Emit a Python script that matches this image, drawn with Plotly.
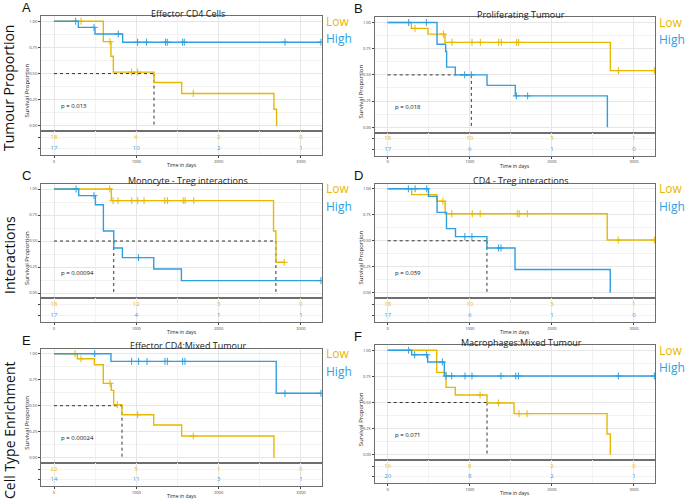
import plotly.graph_objects as go

LOW_COLOR = '#E7B800'
HIGH_COLOR = '#2E9FDF'

titles = ["Effector CD4 Cells", "Proliferating Tumour", "Monocyte - Treg interactions",
          "CD4 - Treg interactions", "Effector CD4:Mixed Tumour", "Macrophages:Mixed Tumour"]
pvals = ["p = 0.013", "p = 0.018", "p = 0.00094", "p = 0.059", "p = 0.00024", "p = 0.071"]
panel_letters = ["A", "B", "C", "D", "E", "F"]
row_labels = ["Tumour Proportion", "Interactions", "Cell Type Enrichment"]
group_names = ["Low", "High"]
risk_times = [0, 1000, 2000, 3000]
x_ticks = [0, 1000, 2000, 3000]
x_tick_labels = ["0", "1000", "2000", "3000"]
y_ticks = [0, 0.25, 0.5, 0.75, 1.0]
y_tick_labels = ["0.00", "0.25", "0.50", "0.75", "1.00"]

# ---- Panel A: Effector CD4 Cells
A_low_t = [599, 692, 721, 1215, 1551, 2672, 2704]
A_low_s = [0.805, 0.665, 0.514, 0.415, 0.31, 0.16, 0.0]
A_low_c = [328, 680, 943, 1016, 1692]
A_high_t = [296, 498, 834]
A_high_s = [0.941, 0.878, 0.80]
A_high_c = [263, 486, 781, 1016, 1125, 1356, 1376, 1563, 1583, 2806, 3243]
A_risk_low = [18, 6, 2, 0]
A_risk_high = [17, 10, 2, 1]
A_median = [1215]

# ---- Panel B: Proliferating Tumour
B_low_t = [288, 491, 698, 2712]
B_low_s = [0.944, 0.889, 0.811, 0.541]
B_low_c = [333, 678, 784, 1027, 1129, 1352, 1384, 1571, 1596, 2810, 3248]
B_high_t = [601, 706, 718, 824, 1210, 1555, 2676]
B_high_s = [0.792, 0.724, 0.574, 0.5, 0.40, 0.30, 0.0]
B_high_c = [256, 471, 938, 1019, 1567, 1705]
B_risk_low = [18, 10, 3, 1]
B_risk_high = [17, 6, 1, 0]
B_median = [1019]

# ---- Panel C: Monocyte - Treg interactions
C_low_t = [697, 2667, 2696]
C_low_s = [0.888, 0.596, 0.295]
C_low_c = [677, 717, 778, 945, 1017, 1094, 1346, 1378, 1569, 1593, 1698, 2797]
C_high_t = [300, 503, 600, 726, 831, 1212, 1548]
C_high_s = [0.936, 0.849, 0.596, 0.433, 0.34, 0.231, 0.119]
C_high_c = [268, 486, 1026, 3243]
C_risk_low = [18, 12, 3, 0]
C_risk_high = [17, 4, 1, 1]
C_median = [726, 2696]

# ---- Panel D: CD4 - Treg interactions
D_low_t = [293, 598, 700, 2674]
D_low_s = [0.944, 0.88, 0.76, 0.507]
D_low_c = [672, 781, 1030, 1127, 1579, 1603, 1701, 2808, 3248]
D_high_t = [497, 602, 716, 826, 1209, 1551, 2711]
D_high_s = [0.927, 0.773, 0.617, 0.54, 0.431, 0.224, 0.0]
D_high_c = [252, 334, 476, 940, 1026, 1351, 1380]
D_risk_low = [18, 10, 3, 1]
D_risk_high = [17, 6, 1, 0]
D_median = [1209]

# ---- Panel E: Effector CD4:Mixed Tumour
E_low_t = [283, 490, 599, 696, 725, 826, 1211, 1551, 2672]
E_low_s = [0.952, 0.894, 0.715, 0.647, 0.51, 0.413, 0.314, 0.208, 0.0]
E_low_c = [255, 328, 680, 769, 1016, 1692]
E_high_t = [692, 2700]
E_high_s = [0.926, 0.619]
E_high_c = [494, 943, 1028, 1130, 1348, 1377, 1563, 1591, 2806, 3243]
E_risk_low = [22, 5, 1, 0]
E_risk_high = [14, 11, 3, 1]
E_median = [826]

# ---- Panel F: Macrophages:Mixed Tumour
F_low_t = [597, 711, 824, 1210, 1539, 2672, 2712]
F_low_s = [0.789, 0.645, 0.572, 0.495, 0.393, 0.198, 0.0]
F_low_c = [1125, 1348, 1600, 1697]
F_high_t = [292, 487, 690]
F_high_s = [0.958, 0.888, 0.754]
F_high_c = [256, 329, 475, 666, 711, 780, 942, 1027, 1380, 1559, 1592, 2810, 3248]
F_risk_low = [16, 8, 2, 0]
F_risk_high = [20, 8, 2, 1]
F_median = [1210]

panels = [
    (A_low_t, A_low_s, A_low_c, A_high_t, A_high_s, A_high_c, A_risk_low, A_risk_high, A_median),
    (B_low_t, B_low_s, B_low_c, B_high_t, B_high_s, B_high_c, B_risk_low, B_risk_high, B_median),
    (C_low_t, C_low_s, C_low_c, C_high_t, C_high_s, C_high_c, C_risk_low, C_risk_high, C_median),
    (D_low_t, D_low_s, D_low_c, D_high_t, D_high_s, D_high_c, D_risk_low, D_risk_high, D_median),
    (E_low_t, E_low_s, E_low_c, E_high_t, E_high_s, E_high_c, E_risk_low, E_risk_high, E_median),
    (F_low_t, F_low_s, F_low_c, F_high_t, F_high_s, F_high_c, F_risk_low, F_risk_high, F_median),
]

# layout geometry in pixels: left, right, top, km bottom, table bottom
W, H = 685, 500
geom = [
    (41, 322, 16, 131.2, 155),
    (374.7, 655, 17.3, 132.5, 155.5),
    (41, 322, 183.8, 298.2, 321.8),
    (374.7, 655, 183.6, 298.0, 321.8),
    (41, 322, 348.5, 462.9, 485.8),
    (374.7, 655, 345.1, 459.9, 482.9),
]
XR = [-158, 3256]


def xp(px):
    return px / W


def yp(py):
    return 1 - py / H


def step_curve(times, surv, cens):
    xs = [0] + list(times)
    ys = [1.0] + list(surv)
    if cens and max(cens) > xs[-1]:
        xs.append(max(cens))
        ys.append(ys[-1])
    return xs, ys


def surv_at(times, surv, t):
    val = 1.0
    for ti, si in zip(times, surv):
        if ti <= t:
            val = si
    return val


fig = go.Figure()
annotations = []
layout = {}
LINE = '#6e6e6e'
GRID = '#e6e6e6'
MINOR = '#f2f2f2'
FONT = 'Open Sans'

for i, (lt, ls, lc, ht, hs, hc, rl, rh, med) in enumerate(panels):
    k = 2 * i + 1
    kt = k + 1
    xa = 'x' if k == 1 else f'x{k}'
    ya = 'y' if k == 1 else f'y{k}'
    xat, yat = f'x{kt}', f'y{kt}'
    l, r, top, kmb, tb = geom[i]

    # median lines
    fig.add_trace(go.Scatter(x=[0, max(med)], y=[0.5, 0.5], mode='lines',
                             line=dict(color='#333333', width=1, dash='dot'),
                             xaxis=xa, yaxis=ya, hoverinfo='skip', showlegend=False))
    for m in med:
        fig.add_trace(go.Scatter(x=[m, m], y=[0.5, 0], mode='lines',
                                 line=dict(color='#333333', width=1, dash='dot'),
                                 xaxis=xa, yaxis=ya, hoverinfo='skip', showlegend=False))

    for (t, s, c, col) in [(lt, ls, lc, LOW_COLOR), (ht, hs, hc, HIGH_COLOR)]:
        xs, ys = step_curve(t, s, c)
        fig.add_trace(go.Scatter(x=xs, y=ys, mode='lines', line=dict(color=col, width=1.4, shape='hv'),
                                 xaxis=xa, yaxis=ya, hoverinfo='skip', showlegend=False))
        fig.add_trace(go.Scatter(x=c, y=[surv_at(t, s, ci) for ci in c], mode='markers',
                                 marker=dict(symbol='cross-thin', size=5, line=dict(color=col, width=1)),
                                 xaxis=xa, yaxis=ya, hoverinfo='skip', showlegend=False))

    # risk table
    fig.add_trace(go.Scatter(x=risk_times, y=[1] * len(rl), mode='text', text=[str(v) for v in rl],
                             textfont=dict(color=LOW_COLOR, size=6, family=FONT),
                             xaxis=xat, yaxis=yat, hoverinfo='skip', showlegend=False))
    fig.add_trace(go.Scatter(x=risk_times, y=[0] * len(rh), mode='text', text=[str(v) for v in rh],
                             textfont=dict(color=HIGH_COLOR, size=6, family=FONT),
                             xaxis=xat, yaxis=yat, hoverinfo='skip', showlegend=False))

    common_x = dict(domain=[xp(l), xp(r)], range=XR, showgrid=True, gridcolor=GRID, gridwidth=0.8,
                    tickvals=x_ticks, zeroline=False, showline=True, mirror=True, linecolor=LINE, linewidth=1,
                    minor=dict(tickmode='linear', tick0=0, dtick=500, showgrid=True, gridcolor=MINOR, gridwidth=0.6))
    layout[f'xaxis{k}'] = dict(common_x, anchor=ya, showticklabels=False, ticks='')
    layout[f'yaxis{k}'] = dict(domain=[yp(kmb), yp(top)], range=[-0.05, 1.05], anchor=xa,
                               tickvals=y_ticks, ticktext=y_tick_labels, ticks='outside', ticklen=2,
                               tickcolor='#444', tickwidth=0.8,
                               tickfont=dict(size=4, color='#444', family=FONT),
                               showgrid=True, gridcolor=GRID, gridwidth=0.8, zeroline=False,
                               showline=True, mirror=True, linecolor=LINE, linewidth=1,
                               minor=dict(tickmode='linear', tick0=0, dtick=0.125, showgrid=True,
                                          gridcolor=MINOR, gridwidth=0.6))
    layout[f'xaxis{kt}'] = dict(common_x, anchor=yat, ticktext=x_tick_labels, ticks='outside', ticklen=2,
                                tickcolor='#444', tickwidth=0.8,
                                tickfont=dict(size=4, color='#444', family=FONT))
    layout[f'yaxis{kt}'] = dict(domain=[yp(tb), yp(kmb)], range=[-0.6, 1.6], anchor=xat,
                                tickvals=[0, 1], showticklabels=False, ticks='outside', ticklen=2,
                                tickcolor='#444', tickwidth=0.8,
                                showgrid=True, gridcolor=MINOR, zeroline=False,
                                showline=True, mirror=True, linecolor=LINE, linewidth=1)

    cx = (l + r) / 2
    annotations.append(dict(text=titles[i], x=xp(cx + 6.5), y=yp(top - 3), xref='paper', yref='paper',
                            xanchor='center', yanchor='middle', showarrow=False,
                            font=dict(size=9, color='#222', family=FONT)))
    annotations.append(dict(text=pvals[i], x=65, y=0.19, xref=xa, yref=ya, xanchor='left', yanchor='middle',
                            showarrow=False, font=dict(size=6, color='#111', family=FONT)))
    annotations.append(dict(text='Survival Proportion', x=xp(l - 14), y=yp((top + kmb) / 2 + 17),
                            xref='paper', yref='paper', textangle=-90, xanchor='center', yanchor='middle',
                            showarrow=False, font=dict(size=6, color='#222', family=FONT)))
    annotations.append(dict(text='Time in days', x=xp(cx), y=yp(tb + 10.5), xref='paper', yref='paper',
                            xanchor='center', yanchor='middle', showarrow=False,
                            font=dict(size=5, color='#222', family=FONT)))
    annotations.append(dict(text=group_names[0], x=xp(r + 1.5), y=yp(top + 5), xref='paper', yref='paper',
                            xanchor='left', yanchor='middle', showarrow=False,
                            font=dict(size=12, color=LOW_COLOR, family=FONT)))
    annotations.append(dict(text=group_names[1], x=xp(r + 1.5), y=yp(top + 22.5), xref='paper', yref='paper',
                            xanchor='left', yanchor='middle', showarrow=False,
                            font=dict(size=12, color=HIGH_COLOR, family=FONT)))
    annotations.append(dict(text=panel_letters[i], x=xp(l - 21 if i % 2 == 0 else l - 23), y=yp(top - 8.5),
                            xref='paper', yref='paper', xanchor='left', yanchor='middle', showarrow=False,
                            font=dict(size=13, color='#111', family='Liberation Sans')))

row_y = [88, 255, 431]
for lab, ry in zip(row_labels, row_y):
    annotations.append(dict(text=lab, x=xp(9), y=yp(ry), xref='paper', yref='paper', textangle=-90,
                            xanchor='center', yanchor='middle', showarrow=False,
                            font=dict(size=14, color='#111', family=FONT)))

fig.update_layout(width=W, height=H, margin=dict(l=0, r=0, t=0, b=0), autosize=False,
                  paper_bgcolor='white', plot_bgcolor='white', showlegend=False,
                  annotations=annotations, **layout)

fig.write_html("out.html", config={'displayModeBar': False},
               post_script="document.body.style.margin='0px';document.body.style.overflow='hidden';")
